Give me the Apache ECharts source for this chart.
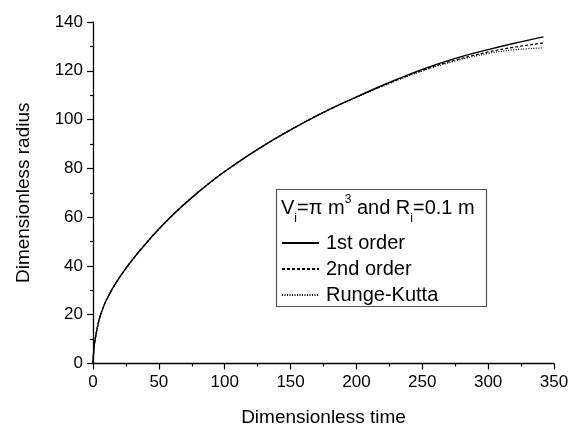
<!DOCTYPE html>
<html>
<head>
<meta charset="utf-8">
<script src="https://cdn.jsdelivr.net/npm/echarts@6/dist/echarts.min.js"></script>
<style>
  html, body { margin: 0; padding: 0; background: #fff; }
  #chart { width: 570px; height: 425px; }
</style>
</head>
<body>
<div id="chart"></div>
<script>
// dimensionless time samples
const times = [0, 0.2, 0.5, 1, 2, 3, 5, 7.5, 10, 15, 20, 25, 30, 40, 50, 62.5, 75, 87.5, 100,
  125, 150, 175, 200, 225, 250, 275, 300, 320, 342];
// dimensionless radius for each scheme (identical until t ~ 200)
const firstOrder = [0, 2.5, 4.5, 7.7, 11, 14, 18.6, 22.6, 25.8, 30.9, 35.2, 39, 42.6, 49.1, 55.1, 61.9, 68, 73.6, 78.7,
  87.8, 95.8, 103, 109.3, 115.2, 120.6, 125.1, 128.7, 131.3, 133.9];
const secondOrder = [0, 2.5, 4.5, 7.7, 11, 14, 18.6, 22.6, 25.8, 30.9, 35.2, 39, 42.6, 49.1, 55.1, 61.9, 68, 73.6, 78.7,
  87.8, 95.8, 103, 109.2, 115, 120.2, 124.4, 127.7, 129.7, 131.4];
const rungeKutta = [0, 2.5, 4.5, 7.7, 11, 14, 18.6, 22.6, 25.8, 30.9, 35.2, 39, 42.6, 49.1, 55.1, 61.9, 68, 73.6, 78.7,
  87.8, 95.8, 103, 109.1, 114.8, 119.9, 124, 127.1, 128.6, 129.4];

const xTicks = { min: 0, max: 350, interval: 50 };
const yTicks = { min: 0, max: 140, interval: 20 };

function pairs(ys) {
  return times.map(function (t, i) { return [t, ys[i]]; });
}

const font = 'Liberation Sans, Arial, sans-serif';

const axisCommon = {
  axisLine: { show: true, lineStyle: { color: '#000', width: 1.3 } },
  axisTick: { show: true, inside: false, length: 6, lineStyle: { color: '#000', width: 1.2 } },
  minorTick: { show: true, splitNumber: 2, length: 3, lineStyle: { color: '#000', width: 1.2 } },
  splitLine: { show: false },
  axisLabel: { color: '#000', fontSize: 17, fontFamily: font, margin: 10 },
  nameLocation: 'middle',
  nameTextStyle: { color: '#000', fontSize: 19, fontFamily: font }
};

const chart = echarts.init(document.getElementById('chart'));

chart.setOption({
  backgroundColor: '#fff',
  animation: false,
  grid: { left: 93, right: 16, top: 22, bottom: 61.5, containLabel: false, outerBoundsMode: 'none' },
  xAxis: Object.assign({}, axisCommon, {
    type: 'value', min: xTicks.min, max: xTicks.max, interval: xTicks.interval,
    name: 'Dimensionless time', nameGap: 45
  }),
  yAxis: Object.assign({}, axisCommon, {
    type: 'value', min: yTicks.min, max: yTicks.max, interval: yTicks.interval,
    name: 'Dimensionless radius', nameGap: 60
  }),
  legend: {
    orient: 'vertical',
    left: 276, top: 228,
    itemWidth: 37, itemHeight: 16, itemGap: 6,
    itemStyle: { opacity: 0 },
    textStyle: { color: '#000', fontSize: 20, fontFamily: font, padding: [0, 0, 0, 2] },
    data: ['1st order', '2nd order', 'Runge-Kutta']
  },
  graphic: [
    {
      type: 'rect', left: 274, top: 187, z: 10,
      shape: { width: 210, height: 117 },
      style: { fill: 'none', stroke: '#555', lineWidth: 1.2 }
    },
    {
      type: 'text', left: 281, top: 194, z: 11,
      style: {
        text: 'V{sub|i}=π m{sup|3} and R{sub|i}=0.1 m',
        fill: '#000', fontSize: 20, fontFamily: font, lineHeight: 26,
        rich: {
          sub: { fontSize: 12, fontFamily: font, verticalAlign: 'bottom', lineHeight: 12, padding: [0, 0, -4, 0] },
          sup: { fontSize: 12, fontFamily: font, verticalAlign: 'top', lineHeight: 12, padding: [-1, 0, 0, 0] }
        }
      }
    }
  ],
  series: [
    {
      name: '1st order', type: 'line', data: pairs(firstOrder), symbol: 'none', smooth: 0.4,
      lineStyle: { color: '#000', width: 1.4, type: 'solid' }, itemStyle: { color: '#000' }
    },
    {
      name: '2nd order', type: 'line', data: pairs(secondOrder), symbol: 'none', smooth: 0.4,
      lineStyle: { color: '#000', width: 1.2, type: [3, 2] }, itemStyle: { color: '#000' }
    },
    {
      name: 'Runge-Kutta', type: 'line', data: pairs(rungeKutta), symbol: 'none', smooth: 0.4,
      lineStyle: { color: '#000', width: 1.2, type: [1, 1.5] }, itemStyle: { color: '#000' }
    }
  ]
});

window.addEventListener('resize', function () { chart.resize(); });
</script>
</body>
</html>
